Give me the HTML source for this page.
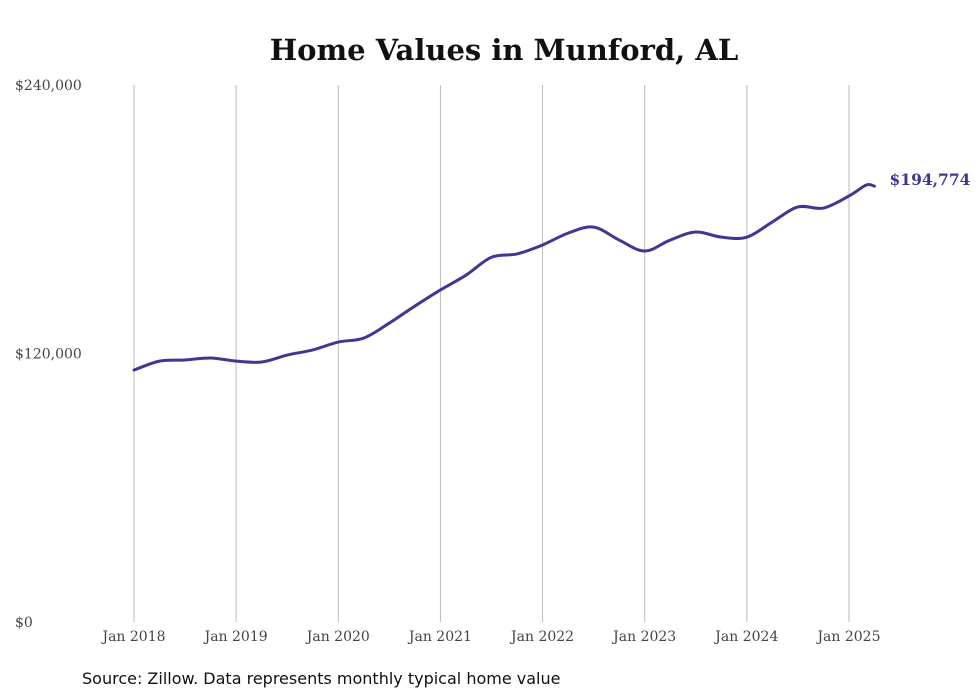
<!DOCTYPE html>
<html><head><meta charset="utf-8"><style>
body{margin:0;background:#fff;width:980px;height:699px;overflow:hidden}
svg{display:block}
</style></head><body>
<svg id="chart" width="980" height="699">
<text x="504" y="60" text-anchor="middle" font-family="DejaVu Serif, Liberation Serif, serif" font-weight="bold" font-size="29" fill="#111">Home Values in Munford, AL</text>
<g id="grid"></g><g id="yaxis"></g><g id="xaxis"></g><g id="series"></g>
<text x="82" y="684" font-family="DejaVu Sans, Liberation Sans, sans-serif" font-size="16" fill="#111">Source: Zillow. Data represents monthly typical home value</text>
</svg>
<script>
const years=[2018,2019,2020,2021,2022,2023,2024,2025];
const yTicks=[0,120000,240000];
const dates=[2018,2018.25,2018.5,2018.75,2019,2019.25,2019.5,2019.75,2020,2020.25,2020.5,2020.75,2021,2021.25,2021.5,2021.75,2022,2022.25,2022.5,2022.75,2023,2023.25,2023.5,2023.75,2024,2024.25,2024.5,2024.75,2025,2025.17,2025.25];
const values=[112600,116600,117100,118000,116600,116200,119300,121600,125100,126900,133600,141200,148400,155000,163000,164500,168500,173800,176500,170700,165800,170700,174300,172000,172000,178800,185500,185000,190400,195300,194774];
const NS='http://www.w3.org/2000/svg';
const X=d=>134+(d-2018)*102.14;
const Y=v=>622-v/240000*537;
function mk(t,a,p){const e=document.createElementNS(NS,t);for(const k in a)e.setAttribute(k,a[k]);p.appendChild(e);return e;}
const grid=document.getElementById('grid'),xa=document.getElementById('xaxis'),ya=document.getElementById('yaxis'),se=document.getElementById('series');
years.forEach(y=>{
 const l=mk('line',{x1:X(y),x2:X(y),y1:85,y2:622,stroke:'#bbb','stroke-width':1},grid);
 
 
 const t=mk('text',{x:X(y),y:641,'text-anchor':'middle','font-family':'DejaVu Serif, Liberation Serif, serif','font-size':14,fill:'#444'},xa);
 t.textContent='Jan '+y;
 
 
});
yTicks.forEach(v=>{
 const t=mk('text',{x:15,y:Y(v)+5,'font-family':'DejaVu Serif, Liberation Serif, serif','font-size':14,fill:'#444'},ya);
 t.textContent='$'+v.toLocaleString('en-US');
 
 
});
const pts=dates.map((d,i)=>[X(d),Y(values[i])]);
let dstr='M'+pts[0][0]+','+pts[0][1];
for(let i=0;i<pts.length-1;i++){
 const p0=pts[i-1]||pts[i],p1=pts[i],p2=pts[i+1],p3=pts[i+2]||p2;
 dstr+=' C'+(p1[0]+(p2[0]-p0[0])/6)+','+(p1[1]+(p2[1]-p0[1])/6)+' '+(p2[0]-(p3[0]-p1[0])/6)+','+(p2[1]-(p3[1]-p1[1])/6)+' '+p2[0]+','+p2[1];
}
const path=mk('path',{d:dstr,fill:'none',stroke:'#3f3893','stroke-width':3,'stroke-linejoin':'round','stroke-linecap':'round'},se);


const last=pts[pts.length-1];
const lab=mk('text',{x:last[0]+15,y:last[1]-1,'font-family':'DejaVu Serif, Liberation Serif, serif','font-weight':'bold','font-size':15.5,fill:'#3f3893'},se);
lab.textContent='$'+values[values.length-1].toLocaleString('en-US');


</script>
</body></html>
